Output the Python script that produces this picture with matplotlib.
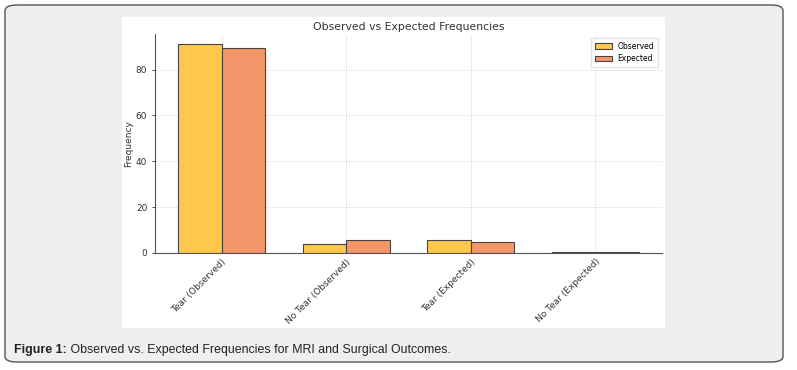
import matplotlib.pyplot as plt
import numpy as np
from matplotlib.patches import FancyBboxPatch, Rectangle

categories = ['Tear (Observed)', 'No Tear (Observed)', 'Tear (Expected)', 'No Tear (Expected)']
observed = [91, 4, 5.7, 0.3]
expected = [89.3, 5.7, 4.7, 0.3]

fig = plt.figure(figsize=(7.97, 3.70), dpi=100)
fig.patch.set_facecolor('white')

# outer panel with rounded border
panel = FancyBboxPatch((5/797, 1 - 362/370), 778/797, 357/370,
                       boxstyle='round,pad=0,rounding_size=0.015',
                       transform=fig.transFigure, facecolor='#efefef',
                       edgecolor='#555555', linewidth=1.0, zorder=-2)
fig.patches.append(panel)
# white chart image area
fig.patches.append(Rectangle((122/797, 1 - 328/370), 543/797, 311/370,
                             transform=fig.transFigure, facecolor='white',
                             edgecolor='none', zorder=-1))

ax = fig.add_axes([155/797, 1 - 253/370, 507/797, 219/370])
ax.set_facecolor('white')

x = np.arange(len(categories))
w = 0.35
ax.bar(x - w/2, observed, w, label='Observed', color='#ffc84c',
       edgecolor='#444444', linewidth=0.8)
ax.bar(x + w/2, expected, w, label='Expected', color='#f5966a',
       edgecolor='#444444', linewidth=0.8)

ax.set_xticks(x)
ax.set_xticklabels(categories, rotation=45, ha='right', rotation_mode='anchor',
                   fontsize=6.5, color='#333333')
ax.tick_params(axis='y', labelsize=6.5, colors='#333333', length=2, width=0.6)
ax.tick_params(axis='x', length=0, pad=3)
ax.set_yticks([0, 20, 40, 60, 80])
ax.set_ylabel('Frequency', fontsize=6.5, color='#333333', labelpad=2)
ax.set_title('Observed vs Expected Frequencies', fontsize=7.8, color='#333333', pad=3)

ax.grid(True, linestyle=':', color='#d0d0d0', linewidth=0.7)
ax.set_axisbelow(True)
for s in ['top', 'right']:
    ax.spines[s].set_visible(False)
for s in ['left', 'bottom']:
    ax.spines[s].set_color('#555555')
    ax.spines[s].set_linewidth(0.8)

ax.legend(loc='upper right', fontsize=5.5, frameon=True, handlelength=2.2,
          borderpad=0.5, labelspacing=0.5, fancybox=False, edgecolor='#dddddd')

t1 = fig.text(14/797, 1 - 350/370, 'Figure 1:', fontsize=8.9, fontweight='bold',
              family='Liberation Sans', va='center', ha='left', color='#222222')
ax.annotate(' Observed vs. Expected Frequencies for MRI and Surgical Outcomes.',
            xy=(1, 0.5), xycoords=t1, va='center', ha='left',
            fontsize=8.9, family='Liberation Sans', color='#222222',
            annotation_clip=False)

fig.savefig('out.png', dpi=100, facecolor=fig.get_facecolor())
